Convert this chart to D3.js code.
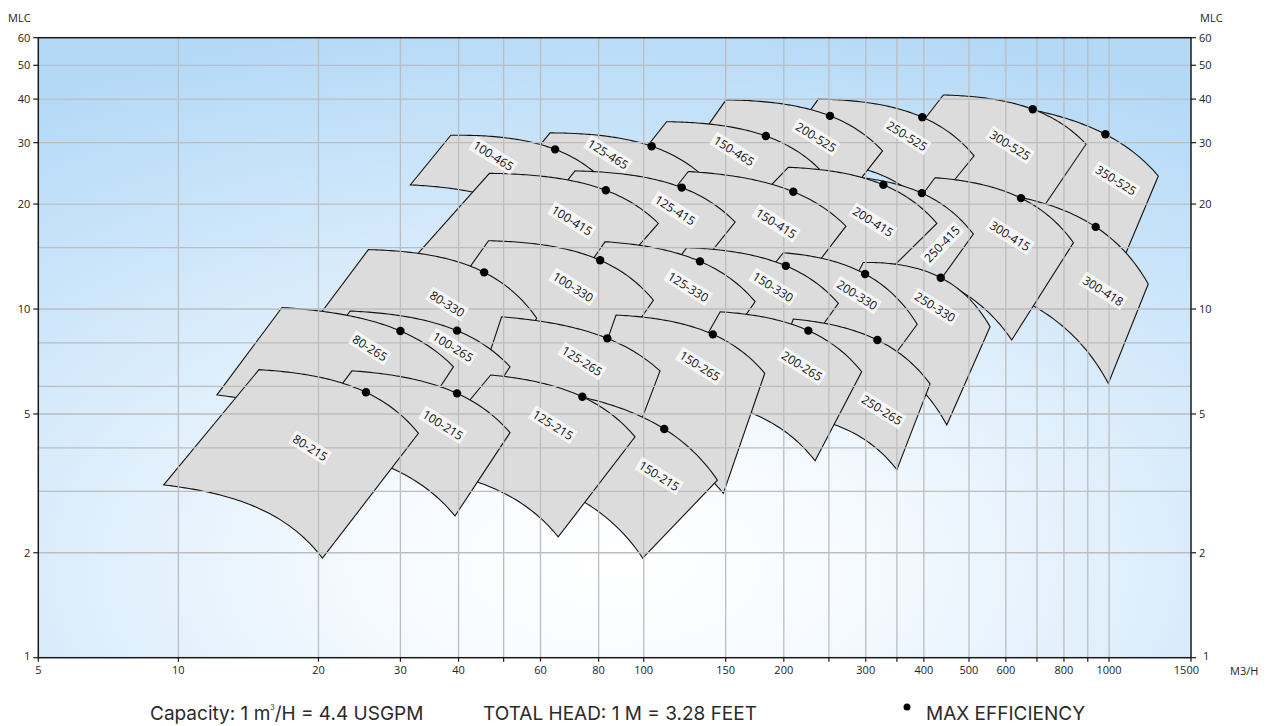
<!DOCTYPE html>
<html><head><meta charset="utf-8">
<script src="https://cdn.jsdelivr.net/npm/d3@7"></script>
<style>body{margin:0;background:#fff;}svg{display:block;}</style>
</head><body>
<svg id="c" width="1277" height="726"></svg>
<script>
// ---------- DATA (flow m3/h, head m) in back-to-front drawing order ----------
const pumpNames = ["350-525","300-525","250-525","200-525","150-465","125-465","100-465",
  "300-418","300-415","250-415","200-415","150-415","125-415","100-415",
  "250-330","200-330","150-330","125-330","100-330","80-330",
  "250-265","200-265","150-265","125-265","100-265","80-265",
  "150-215","125-215","100-215","80-215"];
const topLeft = [[555,39],[440.5,41.1],[237.2,40],[150.3,39.8],[112,34.45],[62.9,32],[38.5,31.5],
  [515,21.9],[422.6,23.8],[264,24.07],[204.5,25.5],[124.7,24.8],[71.2,24.9],[46.6,24.5],
  [296.4,13.6],[199.5,14.5],[123.7,15],[82.6,15.6],[46.4,15.7],[25.6,14.8],
  [209.6,9.36],[146,9.82],[87.2,9.61],[49.5,9.5],[23.4,9.87],[16.7,10.1],
  [65.1,5.78],[46.9,6.47],[23.6,6.65],[14.9,6.7]];
const topRight = [[1276,24.07],[892.5,29.7],[512.8,27.5],[326,28.4],[238.5,25.2],[135.5,23.75],[81.8,23.4],
  [1214,11.8],[838.6,15.5],[511,16.4],[426.6,17.6],[272,17.28],[157.2,17.75],[107.5,17.6],
  [555,8.9],[387,9.04],[262,10.38],[173.6,10.5],[104.9,10.6],[58.9,9.41],
  [412.4,6.1],[294,6.61],[182,6.54],[108.4,6.64],[51.6,6.83],[39,6.83],
  [144,3.23],[95.8,4.3],[51.6,4.42],[32.8,4.4]];
const bottomRight = [[996,10.97],[676,17.2],[412,19.2],[257.7,19.04],[195,17.1],[111,16.1],[66.7,15.9],
  [996.5,6.12],[617.7,8.15],[383,9.61],[270.7,9.67],[186.8,9],[105.7,9.18],[69.4,9.06],
  [448,4.65],[291.6,5.41],[188.6,5.63],[125.8,5.67],[74.1,5.48],[42.3,5.03],
  [350,3.46],[233.5,3.67],[148.3,2.96],[90.7,3.55],[37.6,3.59],[28.4,3.59],
  [99.5,1.93],[65.5,2.22],[39.3,2.55],[20.4,1.93]];
const bottomLeft = [[433,18.8],[330,25],[191.4,26.7],[119.7,25.9],[92,24.7],[51.4,23],[31.5,22.7],
  [422.6,12.85],[311,13.7],[196,14.4],[135.5,14.4],[84.7,12.85],[47.9,12.9],[30.2,12.8],
  [239,7.88],[150,9],[88.9,8.15],[59.9,8.42],[33.1,8.31],[18.25,8.1],
  [177.9,5.07],[115.6,5.67],[71.5,4.5],[42.7,5.23],[17,5.53],[12.1,5.67],
  [45.1,3.55],[32.1,3.52],[18,4.1],[9.3,3.13]];
const maxEfficiency = [[982,31.7],[685.5,37.4],[396.9,35.5],[251.4,35.8],[183,31.35],[104,29.3],[64.5,28.7],
  [936,17.2],[646.7,20.8],[395.9,21.5],[327.4,22.7],[209.6,21.7],[120.7,22.3],[82.9,21.9],
  [434.8,12.3],[299,12.6],[202,13.3],[132.1,13.7],[80.6,13.8],[45.4,12.74],
  [317.8,8.15],[225.8,8.67],[140.8,8.46],[83.5,8.24],[39.7,8.67],[30,8.65],
  [110.7,4.53],[73.8,5.6],[39.7,5.73],[25.3,5.77]];
const labelAt = [[1035,23.4],[612.6,29.5],[367.8,31.35],[234.5,31.1],[156.3,28.4],[83.8,27.8],[47.5,27.5],
  [971,11.27],[612.6,16.2],[437.6,15.36],[311,17.8],[192.5,17.6],[116.8,19.2],[70.1,17.95],
  [422.6,10.13],[287.4,10.97],[189.6,11.57],[124.6,11.57],[70.5,11.57],[37.8,10.34],
  [325,5.13],[218.8,6.86],[132,6.86],[73.7,7.09],[38.9,7.78],[25.8,7.73],
  [107.9,3.32],[63.8,4.65],[37,4.65],[19.2,4.0]];
const steepLabels = ["250-415"];

const xGrid = [10,20,30,40,50,60,80,100,150,200,250,300,350,400,500,600,700,800,900,1000];
const xTicks = [5,10,20,30,40,50,60,80,100,150,200,250,300,350,400,500,600,700,800,900,1000,1500];
const xTickLabels = [5,10,20,30,40,60,80,100,150,200,300,400,500,600,800,1000,1500];
const yGrid = [2,3,4,5,6,8,10,15,20,30,40,50];
const yTickLabels = [1,2,5,10,20,30,40,50,60];

// ---------- CHART ----------
const svg = d3.select("#c");
const x = d3.scaleLog().domain([5,1500]).range([38.3,1191]);
const y = d3.scaleLog().domain([1,60]).range([657.7,37.7]);
const X0=x.range()[0], X1=x.range()[1], Y0=y.range()[0], Y1=y.range()[1];
const tickFont = "11px 'Open Sans', 'Noto Sans', sans-serif";
const pumpFont = "12px 'Open Sans', 'Noto Sans', sans-serif";

const defs = svg.append("defs");
const rg = defs.append("radialGradient").attr("id","bg")
  .attr("cx",0.5).attr("cy",0.85).attr("r",0.9);
rg.append("stop").attr("offset",0).attr("stop-color","#ffffff");
rg.append("stop").attr("offset",0.22).attr("stop-color","#f7fbff");
rg.append("stop").attr("offset",1).attr("stop-color","#b4d9f7");
defs.append("clipPath").attr("id","plotclip").append("rect")
  .attr("x",X0).attr("y",Y1).attr("width",X1-X0).attr("height",Y0-Y1);

svg.append("rect").attr("x",X0).attr("y",Y1).attr("width",X1-X0).attr("height",Y0-Y1)
  .attr("fill","url(#bg)");

const plot = svg.append("g").attr("clip-path","url(#plotclip)");
const lg = Math.log10;

function shapePoints(i){
  const tl=topLeft[i], tr=topRight[i], br=bottomRight[i], bl=bottomLeft[i], d=maxEfficiency[i];
  const f01=(d[1]-tl[1])/(d[0]-tl[0]), f12=(tr[1]-d[1])/(tr[0]-d[0]);
  const c=(f12-f01)/(tr[0]-tl[0]);
  const f=q=>tl[1]+f01*(q-tl[0])+c*(q-tl[0])*(q-d[0]);
  const dl=[lg(bl[0])-lg(tl[0]), lg(bl[1])-lg(tl[1])];
  const dr=[lg(br[0])-lg(tr[0]), lg(br[1])-lg(tr[1])];
  const N=60, top=[], bot=[];
  for(let k=0;k<=N;k++){
    const t=k/N;
    const lq=lg(tl[0])+(lg(tr[0])-lg(tl[0]))*t;
    const lh=lg(Math.max(f(Math.pow(10,lq)),0.05));
    top.push([x(Math.pow(10,lq)), y(Math.pow(10,lh))]);
    const bq=lq+dl[0]+(dr[0]-dl[0])*t, bh=lh+dl[1]+(dr[1]-dl[1])*t;
    bot.push([x(Math.pow(10,bq)), y(Math.pow(10,bh))]);
  }
  return top.concat(bot.reverse());
}
const line = d3.line();
plot.selectAll("path.pump").data(pumpNames).join("path").attr("class","pump")
  .attr("d",(n,i)=>line(shapePoints(i))+"Z")
  .attr("fill","#dcdcdc").attr("stroke","#111").attr("stroke-width",1.1)
  .attr("stroke-linejoin","miter");

// grid on top of shapes
plot.selectAll("line.gx").data(xGrid).join("line").attr("class","gx")
  .attr("x1",d=>x(d)).attr("x2",d=>x(d)).attr("y1",Y1).attr("y2",Y0)
  .attr("stroke","#bdbdbd").attr("stroke-width",1.3);
plot.selectAll("line.gy").data(yGrid).join("line").attr("class","gy")
  .attr("y1",d=>y(d)).attr("y2",d=>y(d)).attr("x1",X0).attr("x2",X1)
  .attr("stroke","#bdbdbd").attr("stroke-width",1.3);

// max efficiency dots
plot.selectAll("circle.bep").data(maxEfficiency).join("circle").attr("class","bep")
  .attr("cx",d=>x(d[0])).attr("cy",d=>y(d[1])).attr("r",4.2).attr("fill","#000");

// labels
pumpNames.forEach((n,i)=>{
  const p=labelAt[i];
  const ang = steepLabels.includes(n) ? -46 : 32;
  const g=plot.append("g").attr("transform",`translate(${x(p[0])},${y(p[1])}) rotate(${ang})`);
  const t=g.append("text").attr("text-anchor","middle").attr("dy","0.36em")
    .style("font",pumpFont).attr("fill","#111").text(n);
  const w=t.node().getComputedTextLength();
  g.insert("rect","text").attr("x",-w/2-2).attr("y",-7.5).attr("width",w+4).attr("height",15)
    .attr("fill","#fff").attr("fill-opacity",0.75);
});

// frame
svg.append("rect").attr("x",X0).attr("y",Y1).attr("width",X1-X0).attr("height",Y0-Y1)
  .attr("fill","none").attr("stroke","#1a1a1a").attr("stroke-width",1.5);

// axes
const ax = svg.append("g");
ax.selectAll("line.tx").data(xTicks).join("line")
  .attr("x1",d=>x(d)).attr("x2",d=>x(d)).attr("y1",Y0).attr("y2",Y0+4)
  .attr("stroke","#1a1a1a").attr("stroke-width",1.2);
ax.selectAll("text.lx").data(xTickLabels).join("text").attr("class","lx")
  .attr("x",d=>d===1500 ? x(d)+8 : x(d)).attr("y",Y0+16)
  .attr("text-anchor",d=>d===1500 ? "end" : "middle")
  .style("font",tickFont).attr("fill","#222").text(d=>d);
[["left",X0,-1],["right",X1,1]].forEach(([side,px,dir])=>{
  ax.selectAll("line.ty"+side).data(yTickLabels).join("line").attr("class","ty"+side)
    .attr("x1",px).attr("x2",px+dir*5).attr("y1",d=>y(d)).attr("y2",d=>y(d))
    .attr("stroke","#1a1a1a").attr("stroke-width",1.2);
  ax.selectAll("text.ly"+side).data(yTickLabels).join("text").attr("class","ly"+side)
    .attr("x",d=>(side==="right" && d===1) ? px+dir*12 : px+dir*8)
    .attr("y",d=>d===1 ? y(d)-2 : y(d)).attr("dy","0.35em")
    .attr("text-anchor",dir<0?"end":"start")
    .style("font",tickFont).attr("fill","#222").text(d=>d);
});
svg.append("text").attr("x",8).attr("y",22).style("font",tickFont).attr("fill","#222").text("MLC");
svg.append("text").attr("x",1200).attr("y",22).style("font",tickFont).attr("fill","#222").text("MLC");
svg.append("text").attr("x",1230).attr("y",675).style("font",tickFont).attr("fill","#222").text("M3/H");

// footer
const footFont = "19px Inter, 'Open Sans', sans-serif";
const cap = svg.append("text").attr("x",150).attr("y",720).style("font",footFont).attr("fill","#2a2a2a");
cap.append("tspan").text("Capacity: 1 m");
cap.append("tspan").attr("font-size","7px").attr("dy","-10").text("3");
cap.append("tspan").attr("dy","10").text("/H = 4.4 USGPM");
svg.append("text").attr("x",483).attr("y",720).style("font",footFont).attr("fill","#2a2a2a")
  .text("TOTAL HEAD: 1 M = 3.28 FEET");
svg.append("circle").attr("cx",907).attr("cy",707).attr("r",3.5).attr("fill","#000");
svg.append("text").attr("x",926).attr("y",720).style("font",footFont).attr("fill","#2a2a2a")
  .text("MAX EFFICIENCY");
</script>
</body></html>
